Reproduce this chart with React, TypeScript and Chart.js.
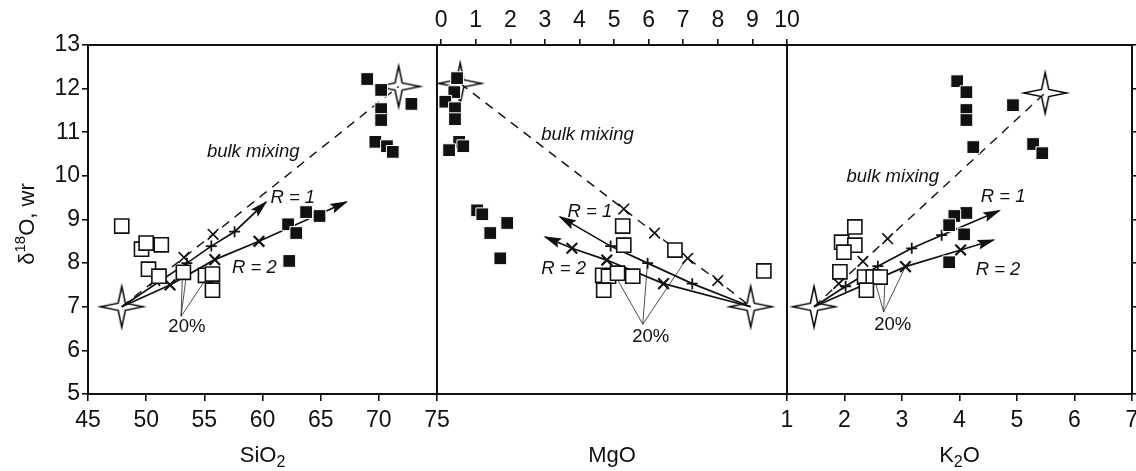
import React, { useEffect, useRef } from "react";
import { Chart, registerables } from "chart.js";

Chart.register(...registerables);

type P = [number, number];

const FONT = "'Liberation Sans', Arial, Helvetica, sans-serif";

// ---- tick labels ----
const yTickValues = [5, 6, 7, 8, 9, 10, 11, 12, 13];
const sio2Ticks = [45, 50, 55, 60, 65, 70, 75];
const mgoTicks = [0, 1, 2, 3, 4, 5, 6, 7, 8, 9, 10];
const k2oTicks = [1, 2, 3, 4, 5, 6, 7];

// ---- SiO2 panel ----
const sio2Filled: P[] = [
  [69.0, 12.22], [70.2, 11.97], [72.8, 11.65], [70.2, 11.53], [70.2, 11.28],
  [69.7, 10.78], [70.7, 10.68], [71.2, 10.55],
  [63.75, 9.17], [64.9, 9.08], [62.2, 8.89], [62.9, 8.69], [62.3, 8.05],
];
const sio2Open: P[] = [
  [47.9, 8.85], [49.6, 8.32], [50.0, 8.46], [51.3, 8.42], [50.2, 7.86],
  [51.1, 7.7], [53.2, 7.79], [55.1, 7.72], [55.7, 7.75], [55.7, 7.38],
];
const sio2Stars: P[] = [[47.9, 7.0], [71.7, 12.05]];
const sio2Bulk: P[] = [[47.9, 7.0], [50.75, 7.6], [53.25, 8.13], [55.75, 8.66], [71.7, 12.05]];
const sio2R1: P[] = [[47.9, 7.0], [53.5, 8.0], [55.6, 8.39], [57.6, 8.72], [60.3, 9.4]];
const sio2R2: P[] = [[47.9, 7.0], [52.05, 7.5], [55.9, 8.08], [59.7, 8.5], [67.2, 9.4]];
const sio2PointerFrom: P = [53.0, 6.78];
const sio2PointerTo: P[] = [[53.1, 7.61], [53.4, 7.61], [54.9, 7.54]];
const sio2Notes = [
  { text: "bulk mixing", x: 59.2, y: 10.55, italic: true },
  { text: "R = 1", x: 62.6, y: 9.49, italic: true },
  { text: "R = 2", x: 59.3, y: 7.89, italic: true },
  { text: "20%", x: 53.5, y: 6.53, italic: false },
];

// ---- MgO panel ----
const mgoFilled: P[] = [
  [0.46, 12.24], [0.38, 11.92], [0.12, 11.7], [0.4, 11.55], [0.4, 11.3],
  [0.52, 10.78], [0.64, 10.68], [0.23, 10.59],
  [1.04, 9.21], [1.19, 9.12], [1.91, 8.92], [1.42, 8.69], [1.71, 8.11],
];
const mgoOpen: P[] = [
  [5.25, 8.85], [5.28, 8.41], [6.76, 8.3], [9.33, 7.82], [4.67, 7.72],
  [4.84, 7.7], [5.1, 7.77], [5.54, 7.7], [4.7, 7.38],
];
const mgoStars: P[] = [[0.55, 12.12], [8.95, 7.0]];
const mgoBulk: P[] = [[0.55, 12.12], [5.28, 9.24], [6.17, 8.69], [7.13, 8.11], [8.0, 7.6], [8.95, 7.0]];
const mgoR1: P[] = [[8.95, 7.0], [7.26, 7.53], [5.97, 8.0], [4.9, 8.39], [3.44, 9.06]];
const mgoR2: P[] = [[8.95, 7.0], [6.43, 7.53], [4.79, 8.07], [3.78, 8.34], [3.01, 8.6]];
const mgoPointerFrom: P = [5.83, 6.6];
const mgoPointerTo: P[] = [[5.1, 7.62], [5.97, 8.04], [7.13, 8.14]];
const mgoNotes = [
  { text: "bulk mixing", x: 4.23, y: 10.94, italic: true },
  { text: "R = 1", x: 4.3, y: 9.17, italic: true },
  { text: "R = 2", x: 3.54, y: 7.86, italic: true },
  { text: "20%", x: 6.06, y: 6.3, italic: false },
];

// ---- K2O panel ----
const k2oFilled: P[] = [
  [3.96, 12.17], [4.12, 11.92], [4.12, 11.51], [4.12, 11.28], [4.24, 10.66],
  [4.93, 11.62], [5.28, 10.73], [5.44, 10.52],
  [4.12, 9.15], [3.91, 9.08], [3.82, 8.87], [4.08, 8.66], [3.82, 8.02],
];
const k2oOpen: P[] = [
  [2.18, 8.83], [1.95, 8.48], [2.18, 8.41], [1.99, 8.25], [1.92, 7.8],
  [2.35, 7.68], [2.5, 7.68], [2.62, 7.68], [2.38, 7.38],
];
const k2oStars: P[] = [[1.47, 7.0], [5.49, 11.9]];
const k2oBulk: P[] = [[1.47, 7.0], [1.9, 7.53], [2.32, 8.04], [2.75, 8.56], [5.49, 11.9]];
const k2oR1: P[] = [[1.47, 7.0], [2.02, 7.47], [2.58, 7.93], [3.17, 8.34], [3.69, 8.64], [4.69, 9.2]];
const k2oR2: P[] = [[1.47, 7.0], [3.06, 7.92], [4.02, 8.3], [4.59, 8.53]];
const k2oPointerFrom: P = [2.68, 6.88];
const k2oPointerTo: P[] = [[2.55, 7.5], [2.7, 7.5], [3.06, 7.92]];
const k2oNotes = [
  { text: "bulk mixing", x: 2.84, y: 9.97, italic: true },
  { text: "R = 1", x: 4.76, y: 9.51, italic: true },
  { text: "R = 2", x: 4.67, y: 7.84, italic: true },
  { text: "20%", x: 2.84, y: 6.58, italic: false },
];

// ---- axis titles ----
type Part = { t: string; size: number; dy: number };
const sio2Title: Part[] = [{ t: "SiO", size: 22, dy: 0 }, { t: "2", size: 16, dy: 5 }];
const mgoTitle: Part[] = [{ t: "MgO", size: 22, dy: 0 }];
const k2oTitle: Part[] = [{ t: "K", size: 22, dy: 0 }, { t: "2", size: 16, dy: 5 }, { t: "O", size: 22, dy: 0 }];
const yTitle: Part[] = [{ t: "δ", size: 22, dy: 0 }, { t: "18", size: 15, dy: -9 }, { t: "O, wr", size: 22, dy: 0 }];

const xy = (p: P) => ({ x: p[0], y: p[1] });

function makeStar(): HTMLCanvasElement {
  const c = document.createElement("canvas");
  c.width = 50;
  c.height = 50;
  const g = c.getContext("2d")!;
  g.translate(25, 25);
  const R = 20.5;
  const r = 3.6;
  g.beginPath();
  g.moveTo(0, -R);
  g.lineTo(r, -r);
  g.lineTo(R + 1, 0);
  g.lineTo(r, r);
  g.lineTo(0, R);
  g.lineTo(-r, r);
  g.lineTo(-R - 1, 0);
  g.lineTo(-r, -r);
  g.closePath();
  g.fillStyle = "#fff";
  g.fill();
  g.lineWidth = 1.5;
  g.strokeStyle = "#000";
  g.lineJoin = "miter";
  g.stroke();
  return c;
}

function drawParts(ctx: CanvasRenderingContext2D, parts: Part[], x: number, y: number) {
  const widths = parts.map((p) => {
    ctx.font = `${p.size}px ${FONT}`;
    return ctx.measureText(p.t).width;
  });
  const total = widths.reduce((a, b) => a + b, 0);
  let cx = x - total / 2;
  ctx.textAlign = "left";
  ctx.textBaseline = "alphabetic";
  parts.forEach((p, i) => {
    ctx.font = `${p.size}px ${FONT}`;
    ctx.fillText(p.t, cx, y + p.dy);
    cx += widths[i];
  });
}

function buildDatasets(
  filled: P[], open: P[], stars: P[], bulk: P[], r1: P[], r2: P[],
  pFrom: P, pTo: P[], star: HTMLCanvasElement
) {
  const mid = (arr: P[], r: number) => arr.map((_, i) => (i === 0 || i === arr.length - 1 ? 0 : r));
  const ds: any[] = [];
  ds.push({
    label: "filled", data: filled.map(xy), pointStyle: "rect", pointRadius: 9,
    backgroundColor: "#111", borderColor: "#fff", borderWidth: 1, order: 0, clip: false,
  });
  ds.push({
    label: "open", data: open.map(xy), pointStyle: "rect", pointRadius: 10,
    backgroundColor: "#fff", borderColor: "#111", borderWidth: 1.6, order: 1, clip: false,
  });
  ds.push({
    label: "bulk", data: bulk.map(xy), showLine: true, borderColor: "#111", borderWidth: 1.4,
    borderDash: [9, 7], pointStyle: "crossRot", pointRadius: mid(bulk, 7.5),
    pointBorderWidth: 1.6, pointBorderColor: "#111", order: 2, clip: false,
  });
  ds.push({
    label: "R1", data: r1.map(xy), showLine: true, borderColor: "#111", borderWidth: 1.7,
    pointStyle: "cross", pointRadius: mid(r1, 5.5), pointBorderWidth: 1.8,
    pointBorderColor: "#111", order: 2, arrow: true, clip: false,
  });
  ds.push({
    label: "R2", data: r2.map(xy), showLine: true, borderColor: "#111", borderWidth: 1.7,
    pointStyle: "crossRot", pointRadius: mid(r2, 7.5), pointBorderWidth: 2.2,
    pointBorderColor: "#111", order: 2, arrow: true, clip: false,
  });
  pTo.forEach((t) => {
    ds.push({
      label: "ptr", data: [xy(pFrom), xy(t)], showLine: true, borderColor: "#222",
      borderWidth: 0.8, pointRadius: 0, order: 3, clip: false,
    });
  });
  ds.push({
    label: "stars", data: stars.map(xy), pointStyle: star, pointRadius: 22, order: 5, clip: false,
  });
  return ds;
}

function overlayPlugin(notes: { text: string; x: number; y: number; italic: boolean }[], title: Part[], withYTitle: boolean) {
  return {
    id: "overlay",
    beforeDatasetsDraw(chart: any) {
      const { ctx, chartArea: a } = chart;
      ctx.save();
      ctx.strokeStyle = "#111";
      ctx.lineWidth = 2;
      ctx.strokeRect(a.left, a.top, a.right - a.left, a.bottom - a.top);
      ctx.restore();
    },
    afterDatasetsDraw(chart: any) {
      const { ctx } = chart;
      const xs = chart.scales.x;
      const ys = chart.scales.y;
      chart.data.datasets.forEach((ds: any, i: number) => {
        if (!ds.arrow) return;
        const pts = chart.getDatasetMeta(i).data;
        const a = pts[pts.length - 2];
        const b = pts[pts.length - 1];
        const ang = Math.atan2(b.y - a.y, b.x - a.x);
        ctx.save();
        ctx.translate(b.x, b.y);
        ctx.rotate(ang);
        ctx.beginPath();
        ctx.moveTo(2, 0);
        ctx.lineTo(-16, -5);
        ctx.lineTo(-13, 0);
        ctx.lineTo(-16, 5);
        ctx.closePath();
        ctx.fillStyle = "#111";
        ctx.fill();
        ctx.restore();
      });
      ctx.save();
      ctx.fillStyle = "#111";
      ctx.textAlign = "center";
      ctx.textBaseline = "middle";
      notes.forEach((n) => {
        ctx.font = n.italic ? `italic 18.5px ${FONT}` : `18.5px ${FONT}`;
        ctx.fillText(n.text, xs.getPixelForValue(n.x), ys.getPixelForValue(n.y));
      });
      ctx.restore();
    },
    afterDraw(chart: any) {
      const { ctx, chartArea: a } = chart;
      ctx.save();
      ctx.fillStyle = "#111";
      drawParts(ctx, title, (a.left + a.right) / 2, 462);
      if (withYTitle) {
        ctx.translate(34, 224);
        ctx.rotate(-Math.PI / 2);
        drawParts(ctx, yTitle, 0, 0);
      }
      ctx.restore();
    },
  };
}

const tickGrid = (len: number) => ({
  display: true, drawOnChartArea: false, drawTicks: true, tickLength: len,
  color: "#111", lineWidth: 1.6,
});
const tickFont = { size: 23, family: FONT };
const setTicks = (vals: number[]) => (s: any) => {
  s.ticks = vals.map((v) => ({ value: v }));
};
const fixHeight = (h: number) => (s: any) => {
  s.height = h;
  s.paddingLeft = 0;
  s.paddingRight = 0;
};
const fixWidth = (w: number) => (s: any) => {
  s.width = w;
  s.paddingTop = 0;
  s.paddingBottom = 0;
};

function baseOptions(scales: any, padding: any) {
  return {
    responsive: false,
    animation: false,
    events: [],
    layout: { padding, autoPadding: false },
    plugins: { legend: { display: false }, tooltip: { enabled: false }, title: { display: false } },
    scales,
  };
}

export default function App() {
  const c1 = useRef<HTMLCanvasElement>(null);
  const c2 = useRef<HTMLCanvasElement>(null);
  const c3 = useRef<HTMLCanvasElement>(null);

  useEffect(() => {
    Chart.defaults.font.family = FONT;
    Chart.defaults.color = "#111";
    const star = makeStar();

    const chart1 = new Chart(c1.current!, {
      type: "scatter",
      data: { datasets: buildDatasets(sio2Filled, sio2Open, sio2Stars, sio2Bulk, sio2R1, sio2R2, sio2PointerFrom, sio2PointerTo, star) },
      options: baseOptions(
        {
          x: {
            type: "linear", position: "bottom", min: 45, max: 75, afterBuildTicks: setTicks(sio2Ticks),
            afterFit: fixHeight(77),
            grid: tickGrid(7), border: { display: false },
            ticks: { font: tickFont, color: "#111", padding: 6, maxRotation: 0, autoSkip: false },
          },
          y: {
            type: "linear", min: 5, max: 13, afterBuildTicks: setTicks(yTickValues),
            afterFit: fixWidth(88),
            grid: tickGrid(6), border: { display: false },
            ticks: { font: tickFont, color: "#111", padding: 2, autoSkip: false },
          },
        },
        { left: 0, top: 45, right: 33, bottom: 0 }
      ),
      plugins: [overlayPlugin(sio2Notes, sio2Title, true)],
    } as any);

    const chart2 = new Chart(c2.current!, {
      type: "scatter",
      data: { datasets: buildDatasets(mgoFilled, mgoOpen, mgoStars, mgoBulk, mgoR1, mgoR2, mgoPointerFrom, mgoPointerTo, star) },
      options: baseOptions(
        {
          x: {
            type: "linear", position: "top", min: -0.12, max: 10, afterBuildTicks: setTicks(mgoTicks),
            afterFit: fixHeight(45),
            grid: tickGrid(6), border: { display: false },
            ticks: { font: tickFont, color: "#111", padding: 5, maxRotation: 0, autoSkip: false },
          },
          y: { type: "linear", display: false, min: 5, max: 13 },
        },
        { left: 17, top: 0, right: 33, bottom: 77 }
      ),
      plugins: [overlayPlugin(mgoNotes, mgoTitle, false)],
    } as any);

    const chart3 = new Chart(c3.current!, {
      type: "scatter",
      data: { datasets: buildDatasets(k2oFilled, k2oOpen, k2oStars, k2oBulk, k2oR1, k2oR2, k2oPointerFrom, k2oPointerTo, star) },
      options: baseOptions(
        {
          x: {
            type: "linear", position: "bottom", min: 1, max: 7, afterBuildTicks: setTicks(k2oTicks),
            afterFit: fixHeight(77),
            grid: tickGrid(7), border: { display: false },
            ticks: { font: tickFont, color: "#111", padding: 6, maxRotation: 0, autoSkip: false },
          },
          y: {
            type: "linear", position: "right", min: 5, max: 13, afterBuildTicks: setTicks(yTickValues),
            afterFit: fixWidth(4),
            grid: tickGrid(4), border: { display: false },
            ticks: { display: false },
          },
        },
        { left: 26, top: 45, right: 0, bottom: 0 }
      ),
      plugins: [overlayPlugin(k2oNotes, k2oTitle, false)],
    } as any);

    return () => {
      chart1.destroy();
      chart2.destroy();
      chart3.destroy();
    };
  }, []);

  return (
    <div style={{ position: "absolute", left: 0, top: 0, width: 1136, height: 471, background: "#fff", overflow: "hidden" }}>
      <canvas ref={c1} width={470} height={471} style={{ position: "absolute", left: 0, top: 0, width: 470, height: 471 }} />
      <canvas ref={c2} width={400} height={471} style={{ position: "absolute", left: 420, top: 0, width: 400, height: 471 }} />
      <canvas ref={c3} width={375} height={471} style={{ position: "absolute", left: 761, top: 0, width: 375, height: 471 }} />
    </div>
  );
}
